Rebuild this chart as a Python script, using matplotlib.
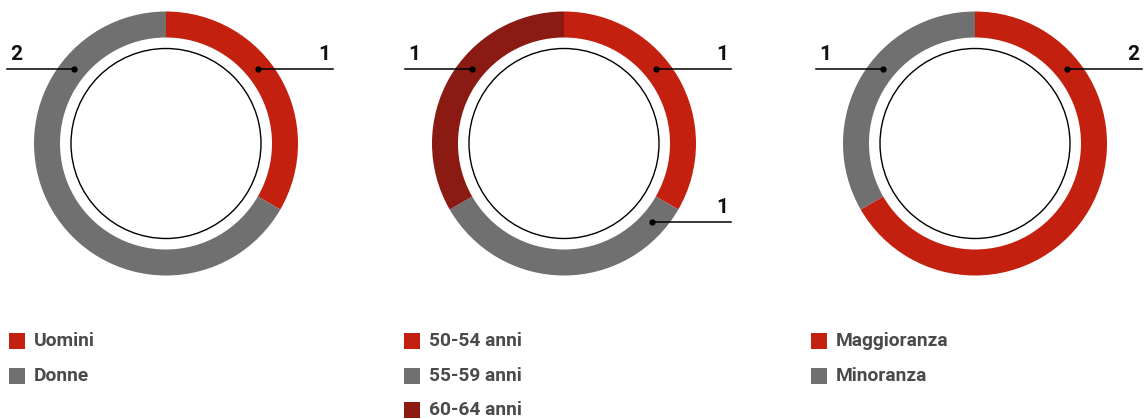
import numpy as np
import matplotlib.pyplot as plt
from matplotlib.patches import Circle

plt.rcParams['font.family'] = ['Roboto', 'DejaVu Sans']

RED = '#c3200f'
GRAY = '#707070'
DARK = '#8a1a12'

# data
gender_labels = ['Uomini', 'Donne']
gender_values = [1, 2]
age_labels = ['50-54 anni', '55-59 anni', '60-64 anni']
age_values = [1, 1, 1]
party_labels = ['Maggioranza', 'Minoranza']
party_values = [2, 1]

charts = [
    dict(labels=gender_labels, values=gender_values, colors=[RED, GRAY],
         cx=166, lx=9, leaders=[('right', 69), ('left', 69)]),
    dict(labels=age_labels, values=age_values, colors=[RED, GRAY, DARK],
         cx=564, lx=404, leaders=[('right', 69), ('right', 222), ('left', 69)]),
    dict(labels=party_labels, values=party_values, colors=[RED, GRAY],
         cx=975, lx=811, leaders=[('right', 69), ('left', 69)]),
]

W, H = 1144, 419
fig = plt.figure(figsize=(W / 100, H / 100), dpi=100)
ax = fig.add_axes([0, 0, 1, 1])

cy_img = 143.5
R_OUT, RING, R_IN = 132, 26, 95
r_mid = R_OUT - RING / 2

for c in charts:
    cx = c['cx']
    cy = H - cy_img
    ax.pie(c['values'], colors=c['colors'], center=(cx, cy), radius=R_OUT,
           startangle=90, counterclock=False, frame=True,
           wedgeprops=dict(width=RING, linewidth=0))
    ax.add_patch(Circle((cx, cy), R_IN, facecolor='white', edgecolor='black', lw=1, zorder=3))

    for val, (side, y_img) in zip(c['values'], c['leaders']):
        y = H - y_img
        dy = y - cy
        dx = np.sqrt((r_mid - 1) ** 2 - dy ** 2)
        if side == 'right':
            px, end = cx + dx, cx + 167
            ax.plot([px, end], [y, y], color='black', lw=1.1, zorder=4)
            ax.text(end - 3, y + 5, str(val), ha='right', va='bottom',
                    fontsize=15, fontweight='bold', color='#111111')
        else:
            px, end = cx - dx, cx - 159
            ax.plot([end, px], [y, y], color='black', lw=1.1, zorder=4)
            ax.text(end + 3, y + 5, str(val), ha='left', va='bottom',
                    fontsize=15, fontweight='bold', color='#111111')
        ax.plot(px, y, 'o', color='black', ms=3.5, zorder=5)

    # legend
    lx = c['lx']
    for i, (lab, col) in enumerate(zip(c['labels'], c['colors'])):
        ly = H - (341 + i * 34.5)
        ax.add_patch(plt.Rectangle((lx, ly - 8), 16, 16, facecolor=col, lw=0))
        ax.text(lx + 25, ly, lab, ha='left', va='center', fontsize=13.8,
                fontweight='bold', color='#4a4a4a')

ax.set_xlim(0, W)
ax.set_ylim(0, H)
ax.set_aspect('auto')
ax.axis('off')

fig.savefig('out.png', dpi=100)
